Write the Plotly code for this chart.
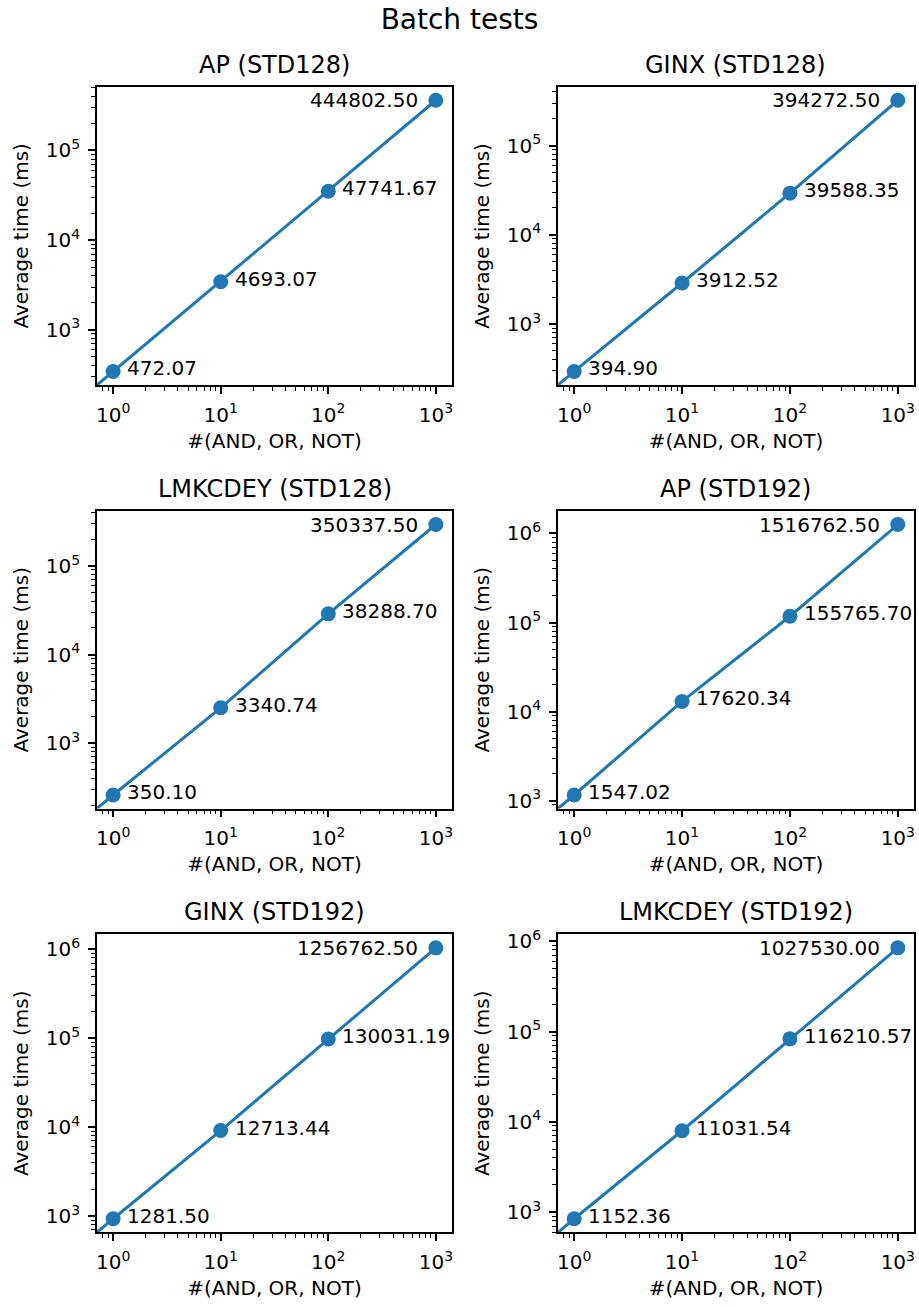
import numpy as np
import plotly.graph_objects as go

W, H = 919, 1307
FONT = "DejaVu Sans"
BLUE = "#1f77b4"

suptitle = "Batch tests"
titles = ["AP (STD128)", "GINX (STD128)", "LMKCDEY (STD128)",
          "AP (STD192)", "GINX (STD192)", "LMKCDEY (STD192)"]
x_label = "#(AND, OR, NOT)"
y_label = "Average time (ms)"

# number of gates (the first point, 0, lies off the log axes and only
# shapes the entering line segment, as in the original figure)
gates = [0, 1, 10, 100, 1000]

# plotted average times (ms)
ap128_time = [0, 343, 3430, 35100, 363000]
ginx128_time = [0, 294, 2880, 29300, 322000]
lmk128_time = [0, 261, 2510, 28800, 293000]
ap192_time = [0, 1158, 13000, 117600, 1260000]
ginx192_time = [0, 933, 9160, 98000, 1040000]
lmk192_time = [0, 844, 7960, 83000, 845000]

# annotated values shown next to the markers
ap128_label = [472.07, 4693.07, 47741.67, 444802.50]
ginx128_label = [394.90, 3912.52, 39588.35, 394272.50]
lmk128_label = [350.10, 3340.74, 38288.70, 350337.50]
ap192_label = [1547.02, 17620.34, 155765.70, 1516762.50]
ginx192_label = [1281.50, 12713.44, 130031.19, 1256762.50]
lmk192_label = [1152.36, 11031.54, 116210.57, 1027530.00]

times = [ap128_time, ginx128_time, lmk128_time, ap192_time, ginx192_time, lmk192_time]
labels = [ap128_label, ginx128_label, lmk128_label, ap192_label, ginx192_label, lmk192_label]

# layout (pixels)
col_px = [(97, 452), (558, 914)]
row_px = [(86.7, 385), (511, 808.5), (934.3, 1232.3)]


def dom_x(a, b):
    return [a / W, b / W]


def dom_y(top, bottom):
    return [1 - bottom / H, 1 - top / H]


def log_range(vals):
    v = np.log10(np.array([t for t in vals if t > 0], dtype=float))
    lo, hi = v.min(), v.max()
    m = 0.05 * (hi - lo)
    return [lo - m, hi + m]


def ticks_for(rng):
    major, minor = [], []
    for d in range(int(np.floor(rng[0])) - 1, int(np.ceil(rng[1])) + 1):
        if rng[0] <= d <= rng[1]:
            major.append(d)
        for k in range(2, 10):
            lv = d + np.log10(k)
            if rng[0] <= lv <= rng[1]:
                minor.append(k * 10.0 ** d)
    return [10.0 ** d for d in major], ["10<sup>%d</sup>" % d for d in major], minor


def clip_pos(arr):
    # mimic a log scale that clips non-positive values to a tiny number
    return [v if v > 0 else 1e-300 for v in arr]


fig = go.Figure()
annotations = []
layout = {}

for i in range(6):
    r, c = divmod(i, 2)
    sfx = "" if i == 0 else str(i + 1)
    xa, ya = "x" + sfx, "y" + sfx
    fig.add_trace(go.Scatter(
        x=clip_pos(gates), y=clip_pos(times[i]), mode="lines+markers",
        line=dict(color=BLUE, width=3), marker=dict(size=15, color=BLUE),
        xaxis=xa, yaxis=ya, showlegend=False, hoverinfo="skip"))

    xr = log_range(gates)
    yr = log_range(times[i])
    xmaj, xtxt, xmin = ticks_for(xr)
    ymaj, ytxt, ymin = ticks_for(yr)

    common = dict(type="log", showgrid=False, zeroline=False, showline=True,
                  linecolor="black", linewidth=1.6, mirror=True,
                  ticks="outside", ticklen=7, tickwidth=1.6, tickcolor="black",
                  tickfont=dict(family=FONT, size=20, color="black"),
                  automargin=False)
    layout["xaxis" + sfx] = dict(
        common, domain=dom_x(*col_px[c]), range=xr, anchor=ya,
        tickmode="array", tickvals=xmaj, ticktext=xtxt,
        minor=dict(ticks="outside", ticklen=4, tickwidth=1.2, tickcolor="black",
                   tickmode="array", tickvals=xmin, showgrid=False),
        title=dict(text=x_label, font=dict(family=FONT, size=20, color="black"), standoff=8),
        ticklabelstandoff=4)
    layout["yaxis" + sfx] = dict(
        common, domain=dom_y(*row_px[r]), range=yr, anchor=xa,
        tickmode="array", tickvals=ymaj, ticktext=ytxt,
        minor=dict(ticks="outside", ticklen=4, tickwidth=1.2, tickcolor="black",
                   tickmode="array", tickvals=ymin, showgrid=False),
        title=dict(text=y_label, font=dict(family=FONT, size=20, color="black"), standoff=12),
        ticklabelstandoff=4)

    # subplot title
    xd = dom_x(*col_px[c])
    yd = dom_y(*row_px[r])
    annotations.append(dict(
        x=(xd[0] + xd[1]) / 2, y=yd[1], xref="paper", yref="paper",
        xanchor="center", yanchor="bottom", yshift=6, showarrow=False,
        text=titles[i], font=dict(family=FONT, size=24, color="black")))

    # value labels
    xs = gates[1:]
    ys = times[i][1:]
    n = len(xs)
    for j in range(n):
        last = (j == n - 1)
        annotations.append(dict(
            x=np.log10(xs[j]), y=np.log10(ys[j]), xref=xa, yref=ya,
            text="%.2f" % labels[i][j], showarrow=False,
            xanchor="right" if last else "left", yanchor="middle",
            xshift=-16 if last else 12, yshift=0 if last else 3,
            font=dict(family=FONT, size=20, color="black")))

fig.update_layout(
    width=W, height=H, margin=dict(l=0, r=0, t=0, b=0),
    paper_bgcolor="white", plot_bgcolor="white",
    font=dict(family=FONT, color="black"),
    title=dict(text=suptitle, x=0.5, xanchor="center", y=1 - 19 / H, yanchor="middle",
               font=dict(family=FONT, size=28, color="black")),
    annotations=annotations,
    **layout)

fig.write_html("out.html")
